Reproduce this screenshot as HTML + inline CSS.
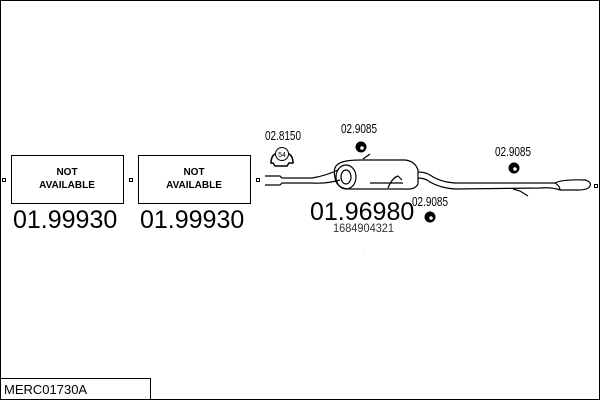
<!DOCTYPE html>
<html><head><style>
body{margin:0;width:600px;height:400px;background:#fff;overflow:hidden}
</style></head><body>
<svg width="600" height="400" xmlns="http://www.w3.org/2000/svg" font-family="Liberation Sans, sans-serif">
<rect x="0.5" y="0.5" width="599" height="399" fill="none" stroke="#000"/>
<rect x="0.5" y="378.5" width="150" height="21" fill="#fff" stroke="#000"/>
<text x="4" y="394" font-size="13">MERC01730A</text>
<rect x="11.5" y="155.5" width="112" height="48" fill="none" stroke="#000"/>
<rect x="138.5" y="155.5" width="112" height="48" fill="none" stroke="#000"/>
<text x="67" y="175" font-size="10" font-weight="bold" text-anchor="middle">NOT</text>
<text x="67" y="188" font-size="10" font-weight="bold" text-anchor="middle">AVAILABLE</text>
<text x="194" y="175" font-size="10" font-weight="bold" text-anchor="middle">NOT</text>
<text x="194" y="188" font-size="10" font-weight="bold" text-anchor="middle">AVAILABLE</text>
<rect x="2.5" y="178.5" width="3" height="3" fill="none" stroke="#000"/>
<rect x="129.5" y="178.5" width="3" height="3" fill="none" stroke="#000"/>
<rect x="256.5" y="178.5" width="3" height="3" fill="none" stroke="#000"/>
<rect x="594.5" y="184.5" width="3" height="3" fill="none" stroke="#000"/>
<text x="13" y="228" font-size="25">01.99930</text>
<text x="140" y="228" font-size="25">01.99930</text>
<text x="310" y="220" font-size="25">01.96980</text>
<text x="333" y="232" font-size="12" fill="#333" textLength="61" lengthAdjust="spacingAndGlyphs">1684904321</text>
<g font-size="13">
<text x="265" y="140" textLength="36" lengthAdjust="spacingAndGlyphs">02.8150</text>
<text x="341" y="133" textLength="36" lengthAdjust="spacingAndGlyphs">02.9085</text>
<text x="495" y="156" textLength="36" lengthAdjust="spacingAndGlyphs">02.9085</text>
<text x="412" y="206" textLength="36" lengthAdjust="spacingAndGlyphs">02.9085</text>
</g>
<!-- clamp 54 -->
<path d="M271 163 q0-8 6-10 q5-8 10 0 q6 2 6 10 l-4 0 l-2 3 l-12 0 l-2-3z" fill="none" stroke="#000" stroke-width="1.5"/>
<circle cx="282" cy="154" r="6.5" fill="#fff" stroke="#000"/>
<text x="282" y="157" font-size="7" text-anchor="middle">54</text>
<!-- hangers -->
<g fill="#000"><circle cx="361" cy="147" r="5.5"/><circle cx="514" cy="168" r="5.5"/><circle cx="430" cy="217" r="5.5"/></g>
<g fill="#fff"><circle cx="362" cy="148" r="1.8"/><circle cx="515" cy="169" r="1.8"/><circle cx="431" cy="218" r="1.8"/></g>
<!-- pipe -->
<g fill="none" stroke="#000" stroke-width="1.2">
<path d="M265 176 L280 176 L282 178 L312 178 Q325 176 338 170"/>
<path d="M265 185 L280 185 L282 183 L312 183 Q326 184 340 180"/>
<path d="M337 165 Q342 160 360 160 L405 160 Q415 161 418 170 L418 184 Q415 190 405 189 L350 189 Q337 189 335 178 Q333 168 337 165z"/>
<ellipse cx="346" cy="177" rx="10" ry="12"/>
<ellipse cx="346" cy="177" rx="5" ry="7"/>
<path d="M418 172 Q425 172 430 175 Q440 182 455 183 L555 183 Q563 179 585 180 Q592 182 590 186 Q588 190 578 190 L560 190 Q552 187 540 188 L455 189 Q440 188 430 182 Q425 178 418 178"/>
<path d="M555 183 Q560 186 560 190"/>
<path d="M370 183 L403 183"/>
<path d="M388 188 Q392 178 398 176 L402 180"/>
<path d="M363 159 L370 154"/>
<path d="M513 189 L520 191 L528 196"/>
</g>
<text x="364" y="253" font-size="4">.</text>
</svg>
</body></html>
